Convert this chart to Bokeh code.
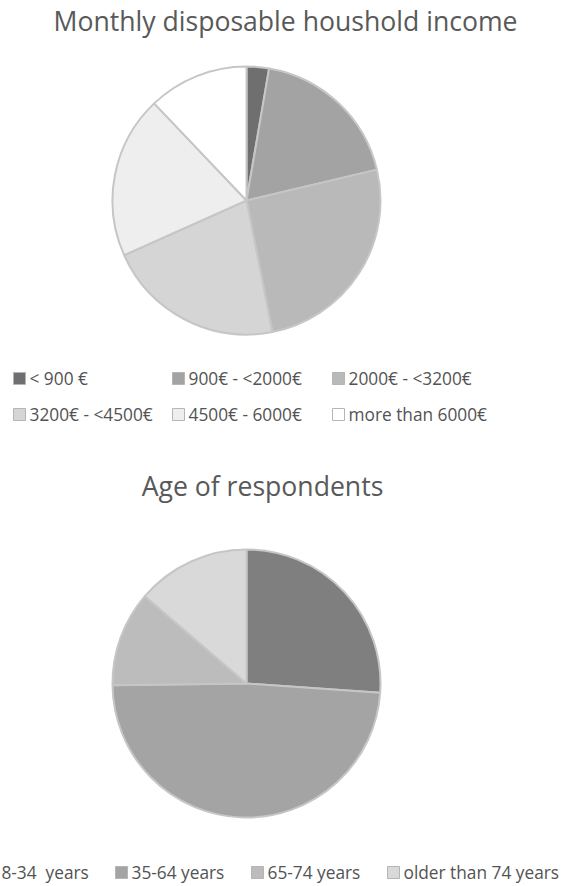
import numpy as np
from bokeh.plotting import figure
from bokeh.models import Range1d, ColumnDataSource
from bokeh.core.properties import value
from bokeh.embed import file_html
from bokeh.resources import INLINE

# --- data -------------------------------------------------------------
income_labels = ["< 900 €", "900€ - <2000€", "2000€ - <3200€",
                 "3200€ - <4500€", "4500€ - 6000€", "more than 6000€"]
income_share = [2.7, 18.6, 25.6, 21.4, 19.6, 12.1]

# the double gap in the first label is kept with a no-break space
age_labels = ["18-34 \u00a0years", "35-64 years", "65-74 years", "older than 74 years"]
age_share = [26.1, 48.7, 11.5, 13.7]

# --- styles -----------------------------------------------------------
income_colors = ["#6f6f6f", "#a3a3a3", "#b9b9b9", "#d5d5d5", "#eeeeee", "#ffffff"]
age_colors = ["#7f7f7f", "#a4a4a4", "#bcbcbc", "#d9d9d9"]
edge_color = "#c6c6c6"
text_color = "#595959"
legend_text_color = "#535353"
FONT = "Open Sans"

W, H = 570, 886


def py(y):
    """Convert a top-down page coordinate to the figure's y axis."""
    return H - y


p = figure(width=W, height=H, x_range=Range1d(0, W), y_range=Range1d(0, H),
           min_border=0, toolbar_location=None, output_backend="svg")
p.axis.visible = False
p.grid.visible = False
p.outline_line_color = None
p.background_fill_color = "white"
p.border_fill_color = "white"


def pie(shares, colors, cx, cy, r):
    frac = np.array(shares, dtype=float) / np.sum(shares)
    cum = np.concatenate([[0.0], np.cumsum(frac)])
    start = np.pi / 2 - cum[:-1] * 2 * np.pi
    end = np.pi / 2 - cum[1:] * 2 * np.pi
    src = ColumnDataSource(dict(start=start, end=end, color=colors))
    p.wedge(x=cx, y=py(cy), radius=r, start_angle="start", end_angle="end",
            direction="clock", fill_color="color", line_color=edge_color,
            line_width=2, source=src)


def legend(labels, colors, xs, ys, box=12, gap=4, size="17.3px"):
    sx = [x + box / 2 for x in xs]
    src = ColumnDataSource(dict(x=sx, y=[py(y) for y in ys], color=colors,
                                tx=[x + box + gap for x in xs], label=labels))
    p.rect(x="x", y="y", width=box, height=box, fill_color="color",
           line_color="#b5b5b5", line_width=1, source=src)
    p.text(x="tx", y="y", text="label", text_font=value(FONT),
           text_font_size=size, text_color=legend_text_color,
           text_baseline="middle", text_align="left", source=src)


def title(txt, x, y, size="26.6px"):
    p.text(x=[x], y=[py(y)], text=[txt], text_font=value(FONT),
           text_font_size=size, text_color=text_color,
           text_align="center", text_baseline="middle")


# income chart
title("Monthly disposable houshold income", 285, 20)
pie(income_share, income_colors, 246, 200, 134)
legend(income_labels, income_colors,
       [13, 172, 332, 13, 172, 332],
       [378, 378, 378, 414, 414, 414])

# age chart
title("Age of respondents", 262, 485)
pie(age_share, age_colors, 246, 683, 134)
legend(age_labels, age_colors,
       [-25, 115, 251, 387],
       [872, 872, 872, 872])

open("out.html", "w").write(file_html(p, INLINE))
